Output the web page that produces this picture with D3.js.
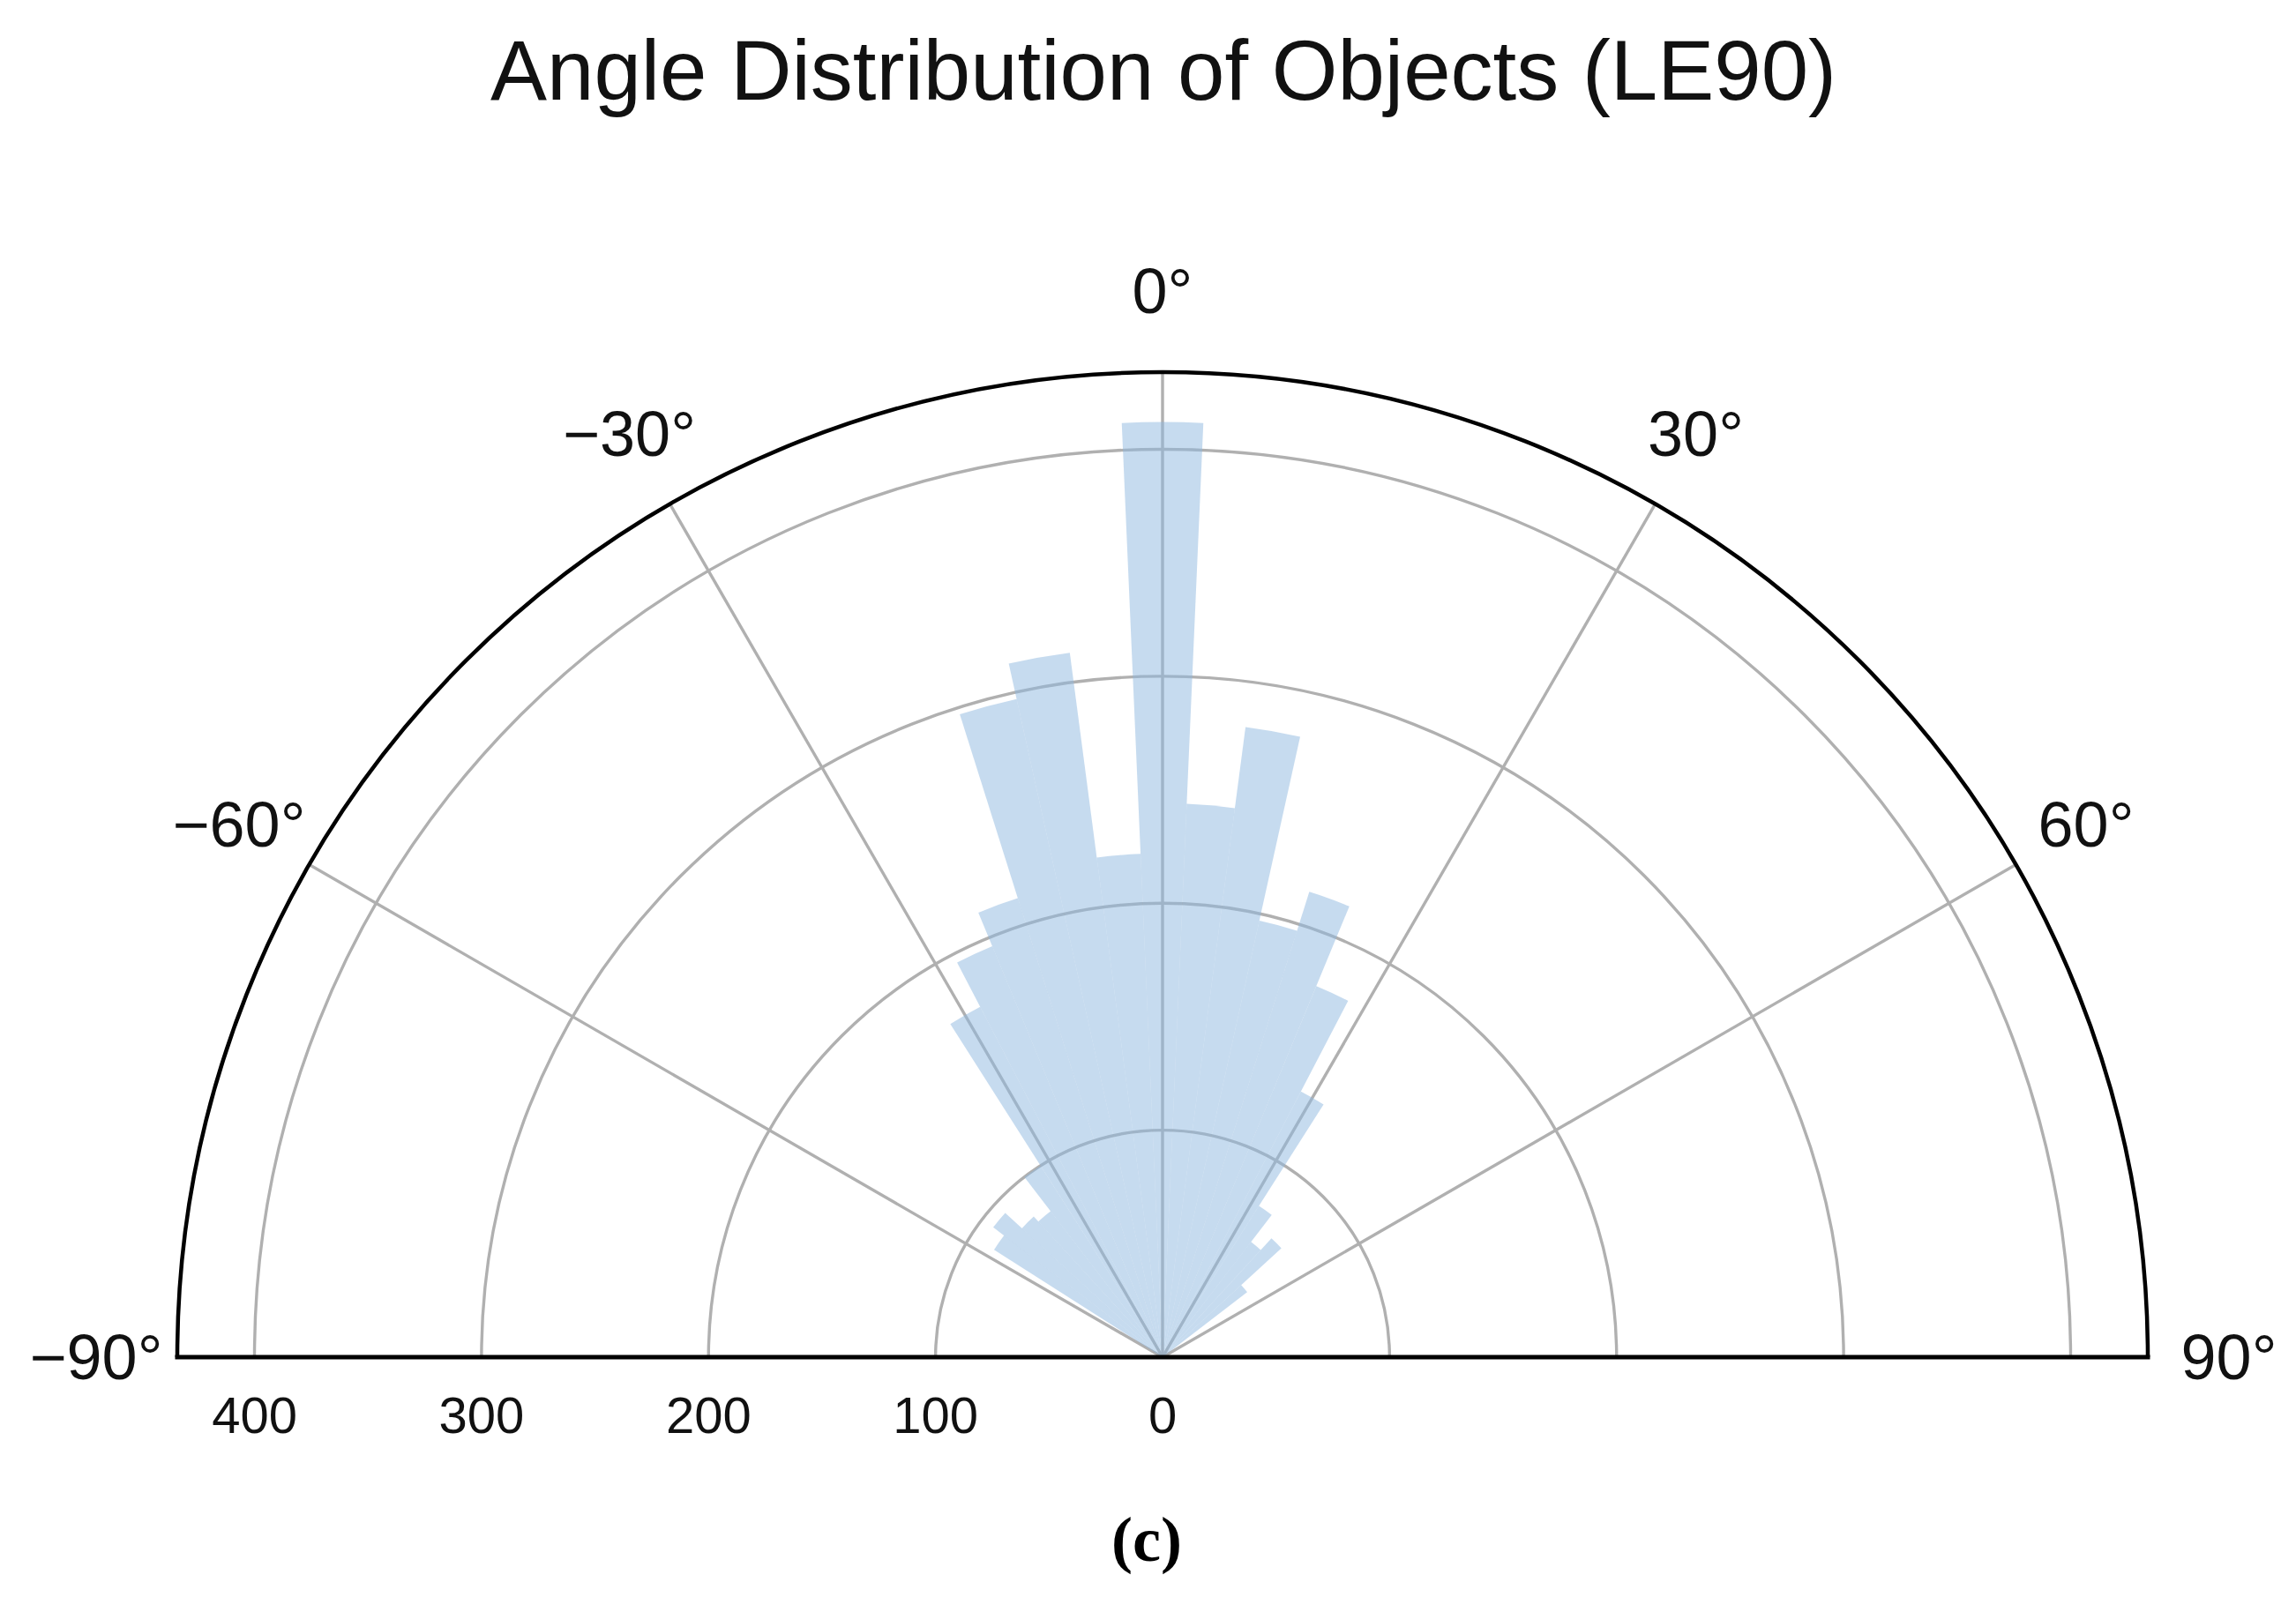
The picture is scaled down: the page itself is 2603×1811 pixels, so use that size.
<!DOCTYPE html>
<html>
<head>
<meta charset="utf-8">
<script src="https://cdn.jsdelivr.net/npm/d3@7"></script>
<style>
  html, body { margin: 0; padding: 0; background: #ffffff; }
  svg { display: block; }
</style>
</head>
<body>
<svg id="chart" width="2603" height="1811"></svg>
<script>
// ---- data ----
const binCenters = [-90,-85,-80,-75,-70,-65,-60,-55,-50,-45,-40,-35,-30,-25,-20,-15,-10,-5,0,
                    5,10,15,20,25,30,35,40,45,50,55,60,65,70,75,80,85,90];
const counts     = [0,0,0,0,0,0,0,88,94,84,81,100,174,196,212,297,313,222,412,
                    244,280,197,215,177,132,79,64,71,47,0,0,0,0,0,0,0,0];
const binWidth = 5;
const radialTicks = [100, 200, 300, 400];
const radialTickLabels = ["400", "300", "200", "100", "0"];
const radialTickValues = [400, 300, 200, 100, 0];
const angleTicks = [-90, -60, -30, 0, 30, 60, 90];
const angleTickLabels = ["\u221290\u00b0", "\u221260\u00b0", "\u221230\u00b0", "0\u00b0", "30\u00b0", "60\u00b0", "90\u00b0"];
const rMax = 434;
const titleText = "Angle Distribution of Objects (LE90)";
const captionText = "(c)";

// ---- layout ----
const W = 2603, H = 1811;
const cx = 1318, cy = 1539;
const R = 1117;

const svg = d3.select("#chart");
svg.append("rect").attr("width", W).attr("height", H).attr("fill", "#ffffff");

const r = d3.scaleLinear().domain([0, rMax]).range([0, R]);
const a = d3.scaleLinear().domain([-90, 90]).range([-Math.PI / 2, Math.PI / 2]);

const g = svg.append("g").attr("transform", `translate(${cx},${cy})`);

// grid rings
g.selectAll("path.ring").data(radialTicks).enter().append("path")
  .attr("class", "ring")
  .attr("d", d => {
    const p = d3.path();
    p.arc(0, 0, r(d), -Math.PI, 0);
    return p.toString();
  })
  .attr("fill", "none").attr("stroke", "#b0b0b0").attr("stroke-width", 3.4);

// grid spokes
g.selectAll("line.spoke").data(angleTicks).enter().append("line")
  .attr("class", "spoke")
  .attr("x1", 0).attr("y1", 0)
  .attr("x2", d => r(rMax) * Math.sin(a(d)))
  .attr("y2", d => -r(rMax) * Math.cos(a(d)))
  .attr("stroke", "#b0b0b0").attr("stroke-width", 3.4);

// bars
const barArc = d3.arc()
  .innerRadius(0)
  .outerRadius(d => r(d.v))
  .startAngle(d => a(d.c - binWidth / 2))
  .endAngle(d => a(d.c + binWidth / 2));
const barData = binCenters.map((c, i) => ({ c: c, v: counts[i] })).filter(d => d.v > 0);
g.selectAll("path.bar").data(barData).enter().append("path")
  .attr("class", "bar")
  .attr("d", barArc)
  .attr("fill", "rgb(141,183,223)")
  .attr("fill-opacity", 0.5)
  .attr("stroke", "none");

// outer frame
g.append("path")
  .attr("d", () => { const p = d3.path(); p.arc(0, 0, r(rMax), -Math.PI, 0); return p.toString(); })
  .attr("fill", "none").attr("stroke", "#000").attr("stroke-width", 4.5);
g.append("line")
  .attr("x1", -r(rMax)).attr("x2", r(rMax)).attr("y1", 0).attr("y2", 0)
  .attr("stroke", "#000").attr("stroke-width", 5).attr("stroke-linecap", "square");

// angle labels
const labelR = R + 92;
g.selectAll("text.alab").data(angleTicks).enter().append("text")
  .attr("class", "alab")
  .attr("x", d => labelR * Math.sin(a(d)))
  .attr("y", d => -labelR * Math.cos(a(d)))
  .attr("text-anchor", "middle")
  .attr("dominant-baseline", "central")
  .attr("font-family", "'Liberation Sans', Arial, Helvetica, sans-serif")
  .attr("font-size", 72)
  .attr("fill", "#111")
  .text((d, i) => angleTickLabels[i]);

// radial tick labels (left half, below baseline)
g.selectAll("text.rlab").data(radialTickValues).enter().append("text")
  .attr("class", "rlab")
  .attr("x", d => -r(d))
  .attr("y", 86)
  .attr("text-anchor", "middle")
  .attr("font-family", "'Liberation Sans', Arial, Helvetica, sans-serif")
  .attr("font-size", 58)
  .attr("fill", "#111")
  .text((d, i) => radialTickLabels[i]);

// title
svg.append("text")
  .attr("x", 1319).attr("y", 113)
  .attr("text-anchor", "middle")
  .attr("font-family", "'Liberation Sans', Arial, Helvetica, sans-serif")
  .attr("font-size", 96)
  .attr("fill", "#111")
  .text(titleText);

// caption
svg.append("text")
  .attr("x", 1300).attr("y", 1770)
  .attr("text-anchor", "middle")
  .attr("font-family", "'Liberation Serif', 'Times New Roman', serif")
  .attr("font-weight", "bold")
  .attr("font-size", 72)
  .attr("fill", "#000")
  .text(captionText);
</script>
</body>
</html>
